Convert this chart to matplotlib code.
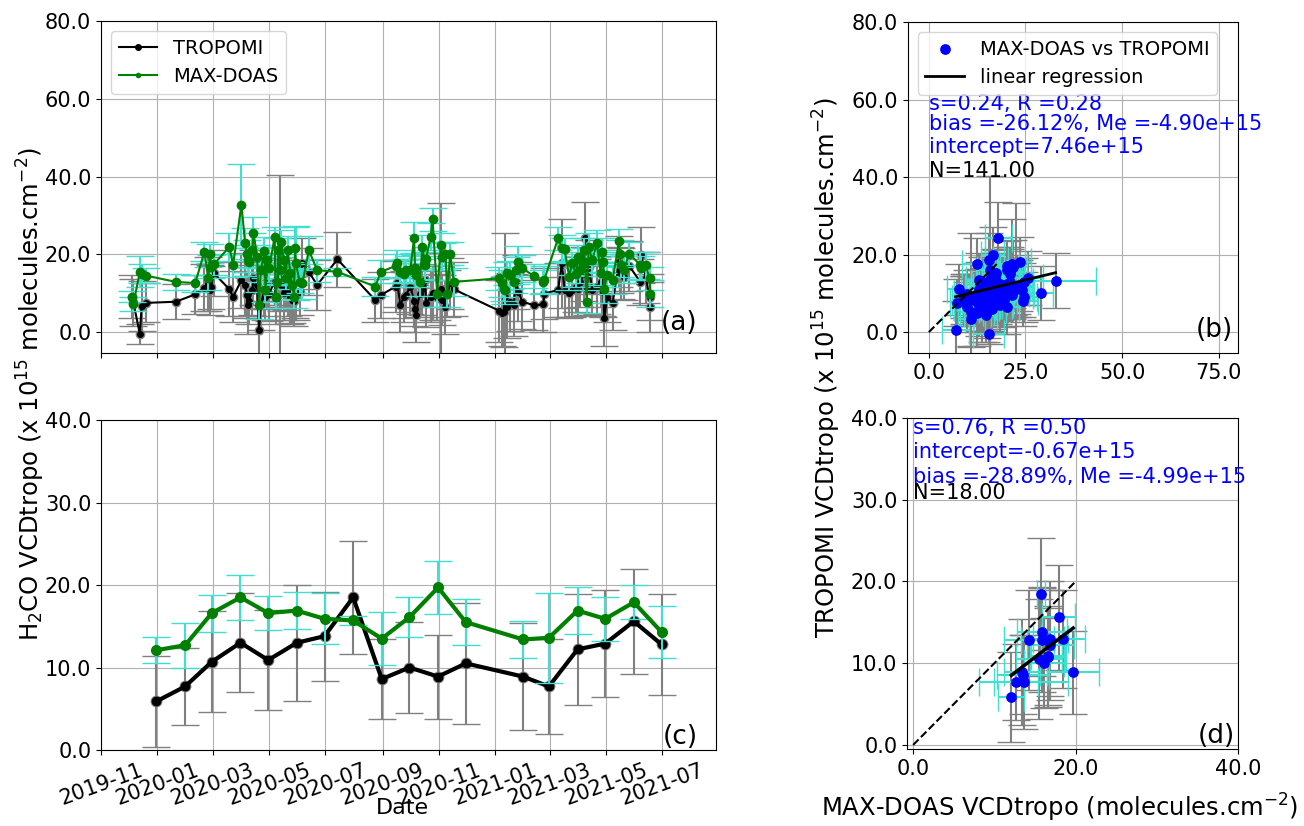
import numpy as np
import pandas as pd
import matplotlib
matplotlib.use("Agg")
import matplotlib.pyplot as plt
import matplotlib.dates as mdates
from matplotlib.ticker import FormatStrFormatter, MultipleLocator

# ---- daily coincidences ----
dates = ["2019-12-04", "2019-12-06", "2019-12-13", "2019-12-15", "2019-12-20", "2020-01-21",
         "2020-02-11", "2020-02-21", "2020-02-25", "2020-02-27", "2020-02-28", "2020-03-02",
         "2020-03-19", "2020-03-23", "2020-04-01", "2020-04-05", "2020-04-07", "2020-04-08",
         "2020-04-09", "2020-04-13", "2020-04-14", "2020-04-18", "2020-04-20", "2020-04-22",
         "2020-04-26", "2020-04-27", "2020-04-29", "2020-05-01", "2020-05-07", "2020-05-08",
         "2020-05-10", "2020-05-11", "2020-05-13", "2020-05-14", "2020-05-17", "2020-05-19",
         "2020-05-21", "2020-05-24", "2020-05-26", "2020-05-28", "2020-05-29", "2020-05-30",
         "2020-06-03", "2020-06-06", "2020-06-13", "2020-06-22", "2020-07-14", "2020-08-24",
         "2020-08-30", "2020-09-15", "2020-09-17", "2020-09-20", "2020-09-24", "2020-09-26",
         "2020-10-01", "2020-10-05", "2020-10-06", "2020-10-07", "2020-10-11", "2020-10-14",
         "2020-10-17", "2020-10-18", "2020-10-23", "2020-10-25", "2020-10-30", "2020-11-03",
         "2020-11-04", "2020-11-08", "2020-11-10", "2020-11-13", "2020-11-17", "2021-01-05",
         "2021-01-08", "2021-01-10", "2021-01-11", "2021-01-14", "2021-01-17", "2021-01-21",
         "2021-01-23", "2021-01-26", "2021-01-30", "2021-02-12", "2021-02-22", "2021-02-23",
         "2021-03-10", "2021-03-14", "2021-03-17", "2021-03-22", "2021-03-25", "2021-03-29",
         "2021-04-01", "2021-04-03", "2021-04-07", "2021-04-08", "2021-04-10", "2021-04-12",
         "2021-04-16", "2021-04-21", "2021-04-25", "2021-04-27", "2021-04-28", "2021-04-29",
         "2021-05-02", "2021-05-08", "2021-05-15", "2021-05-16", "2021-05-17", "2021-05-20",
         "2021-05-26", "2021-06-07", "2021-06-08", "2021-06-13", "2021-06-17", "2021-06-18"]

maxdoas = [9.1, 7.2, 15.5, 15.0, 14.5, 12.9, 12.6, 20.7, 13.8, 20.2, 16.8, 17.4,
           21.9, 17.2, 32.8, 22.8, 20.2, 18.5, 18.0, 21.1, 25.6, 19.4, 6.9, 15.9,
           20.9, 10.8, 18.5, 16.4, 24.5, 9.1, 13.0, 21.1, 15.9, 23.2, 18.5, 14.0,
           21.1, 15.1, 12.0, 9.1, 21.5, 17.7, 13.0, 12.5, 21.1, 15.9, 15.5, 11.7,
           15.5, 17.0, 17.7, 15.5, 15.0, 15.9, 16.0, 24.3, 16.4, 14.7, 12.9, 21.9,
           17.2, 18.9, 24.5, 29.0, 9.9, 22.5, 19.4, 20.2, 9.9, 20.2, 12.9, 13.8,
           12.5, 11.0, 10.8, 15.1, 14.7, 13.0, 15.9, 18.1, 16.4, 14.4, 12.9, 13.5,
           24.1, 21.5, 21.3, 14.2, 17.7, 15.0, 19.4, 16.0, 21.1, 18.0, 7.8, 21.9,
           18.5, 22.8, 15.1, 20.7, 18.1, 11.0, 14.7, 13.4, 23.5, 20.2, 17.2, 16.0,
           20.2, 17.2, 16.5, 17.2, 13.8, 9.9]

maxdoas_err = [1.5, 1.8, 4.0, 2.5, 2.0, 2.0, 2.2, 2.5, 3.0, 2.5, 3.0, 2.8,
               3.5, 3.0, 10.4, 4.0, 3.5, 3.0, 3.5, 4.5, 4.0, 3.0, 3.5, 3.0,
               3.5, 3.0, 3.0, 3.5, 2.5, 3.0, 3.5, 3.0, 3.5, 3.0, 3.5, 3.0,
               3.5, 3.0, 3.5, 3.0, 5.4, 9.5, 3.0, 4.0, 3.5, 3.0, 1.0, 2.5,
               3.0, 3.0, 3.5, 3.0, 3.5, 3.0, 3.5, 4.0, 3.5, 3.0, 3.5, 3.0,
               3.5, 3.0, 3.5, 3.0, 3.5, 3.0, 3.5, 3.0, 3.5, 3.0, 3.5, 3.0,
               3.5, 3.0, 3.5, 3.0, 3.5, 3.0, 3.5, 4.0, 3.5, 3.0, 3.0, 3.5,
               3.0, 3.5, 3.0, 3.5, 3.0, 3.5, 3.0, 3.5, 3.0, 3.5, 3.0, 3.5,
               3.0, 3.5, 3.0, 3.5, 3.0, 3.5, 3.0, 3.5, 3.0, 3.5, 3.0, 3.5,
               3.0, 3.5, 3.0, 3.5, 3.0, 3.5]

tropomi = [9.1, 7.6, -0.5, 6.7, 7.5, 7.8, 9.7, 11.4, 12.3, 10.8, 11.5, 15.2,
           11.0, 9.1, 13.3, 12.0, 9.5, 6.9, 8.0, 10.8, 14.0, 12.0, 0.5, 6.9,
           11.0, 9.0, 12.5, 9.9, 13.0, 8.5, 13.4, 13.0, 15.9, 12.0, 10.0, 11.7,
           10.5, 9.0, 8.2, 8.0, 9.5, 10.0, 10.4, 17.7, 15.5, 12.1, 18.7, 8.2,
           9.5, 11.7, 12.5, 6.9, 9.1, 9.5, 11.7, 8.0, 6.0, 4.4, 9.9, 11.0,
           13.4, 7.4, 9.1, 10.0, 9.0, 11.2, 8.2, 6.5, 9.9, 12.5, 11.0, 5.5,
           5.0, 5.2, 9.1, 6.5, 7.8, 6.9, 12.9, 10.4, 7.8, 6.9, 7.1, 9.9,
           10.8, 17.7, 10.8, 10.0, 10.8, 11.7, 11.0, 12.9, 15.0, 24.3, 11.0, 16.8,
           10.8, 11.7, 13.0, 11.0, 10.4, 3.5, 9.0, 7.4, 18.1, 16.0, 15.0, 14.2,
           17.0, 12.9, 19.9, 14.0, 9.0, 6.5]

tropomi_err = [5.5, 6.0, 2.5, 6.5, 5.0, 4.5, 5.0, 6.0, 7.0, 6.5, 5.5, 6.0,
               7.0, 6.5, 7.0, 8.0, 6.0, 7.5, 6.0, 6.5, 7.0, 6.0, 7.5, 6.5,
               7.0, 6.0, 6.5, 7.0, 6.0, 6.5, 7.0, 6.0, 24.4, 6.5, 7.0, 6.0,
               6.5, 7.0, 6.0, 6.5, 6.0, 7.0, 6.0, 6.5, 6.0, 6.5, 7.0, 5.5,
               6.0, 6.5, 6.0, 7.0, 6.5, 6.0, 7.0, 6.5, 6.0, 7.0, 6.0, 6.5,
               7.0, 6.0, 6.5, 7.0, 6.0, 22.0, 6.5, 7.0, 6.0, 6.5, 7.0, 8.0,
               8.5, 9.0, 16.5, 8.0, 7.5, 8.0, 7.0, 7.5, 7.0, 6.5, 7.0, 6.5,
               7.0, 11.5, 7.0, 6.5, 7.0, 6.5, 7.0, 6.5, 7.0, 9.2, 6.5, 7.0,
               6.5, 7.0, 6.5, 7.0, 6.5, 7.0, 6.5, 7.0, 6.5, 6.0, 6.5, 6.0,
               6.5, 6.0, 7.2, 6.5, 6.0, 6.5]

# ---- monthly means (panel c) ----
months = ["2019-12-31", "2020-01-31", "2020-02-29", "2020-03-31", "2020-04-30", "2020-05-31",
          "2020-06-30", "2020-07-31", "2020-08-31", "2020-09-30", "2020-10-31", "2020-11-30",
          "2021-01-31", "2021-02-28", "2021-03-31", "2021-04-30", "2021-05-31", "2021-06-30"]
maxdoas_m = [12.1, 12.7, 16.6, 18.5, 16.6, 16.9, 15.9, 15.7, 13.5, 16.1, 19.7, 15.5,
             13.4, 13.6, 16.9, 15.9, 17.9, 14.3]
maxdoas_m_err = [1.6, 2.7, 2.25, 2.7, 2.1, 2.2, 3.1, 0.5, 3.2, 2.45, 3.2, 2.8,
                 2.2, 5.45, 2.85, 2.65, 2.05, 3.1]
tropomi_m = [5.9, 7.7, 10.7, 13.0, 10.9, 13.0, 13.8, 18.5, 8.6, 10.0, 8.9, 10.5,
             8.9, 7.7, 12.2, 12.9, 15.6, 12.8]
tropomi_m_err = [5.5, 4.65, 6.1, 6.0, 6.05, 7.0, 5.4, 6.85, 4.8, 5.5, 5.1, 7.3,
                 6.45, 5.7, 6.7, 6.45, 6.4, 6.1]

# regression results printed on the figure
slope_d, icpt_d = 0.24, 7.46
slope_m, icpt_m = 0.76, -0.67
oneone_d = [0, 18]
oneone_m = [0, 20]

t = pd.to_datetime(dates)
tm = pd.to_datetime(months)
G = np.array(maxdoas); Ge = np.array(maxdoas_err)
B = np.array(tropomi); Be = np.array(tropomi_err)
Gm = np.array(maxdoas_m); Gme = np.array(maxdoas_m_err)
Bm = np.array(tropomi_m); Bme = np.array(tropomi_m_err)

fs = 15
lfs = 17.5
plt.rcParams["font.size"] = fs

fig = plt.figure(figsize=(13.04, 8.26), dpi=100)
ax_a = fig.add_axes([0.0775, 0.5726, 0.4716, 0.4019])
ax_c = fig.add_axes([0.0775, 0.0920, 0.4716, 0.3995], sharex=ax_a)
ax_b = fig.add_axes([0.6963, 0.5726, 0.2531, 0.4007])
ax_d = fig.add_axes([0.6956, 0.0932, 0.2538, 0.4007])

# panel a  (errorbar lifts its markers by +0.1 in zorder, so set them by hand)
ax_a.errorbar(t, B, yerr=Be, fmt="o", color="grey", ecolor="grey", capsize=10, ms=6, zorder=2)
l1, = ax_a.plot(t, B, "k.-", lw=1.5, ms=8, label="TROPOMI", zorder=2.3)
ax_a.errorbar(t, G, yerr=Ge, fmt="o", color="green", ecolor="turquoise", capsize=10, ms=6, zorder=2.4)
l2, = ax_a.plot(t, G, "g.-", lw=1.5, label="MAX-DOAS", zorder=2.6)
ax_a.legend(handles=[l1, l2], loc="upper left", fontsize=14)
ax_a.set_ylim(-5.4, 80)
ax_a.yaxis.set_major_locator(MultipleLocator(20))
ax_a.text(0.97, 0.05, "(a)", transform=ax_a.transAxes, ha="right", va="bottom", fontsize=19)
plt.setp(ax_a.get_xticklabels(), visible=False)

# panel c
ax_c.errorbar(tm, Bm, yerr=Bme, fmt="o", color="grey", ecolor="grey", capsize=10, ms=7.5, zorder=2)
ax_c.plot(tm, Bm, "k.-", lw=3, ms=12, zorder=2.3)
ax_c.errorbar(tm, Gm, yerr=Gme, fmt="o", color="green", ecolor="turquoise", capsize=10, ms=7, zorder=2.4)
ax_c.plot(tm, Gm, "g.-", lw=3, ms=8, zorder=2.6)
ax_c.set_ylim(0, 40)
ax_c.yaxis.set_major_locator(MultipleLocator(10))
ax_c.set_xlim(pd.Timestamp("2019-11-01"), pd.Timestamp("2021-08-28"))
ax_c.xaxis.set_major_locator(mdates.MonthLocator(bymonth=[1, 3, 5, 7, 9, 11]))
ax_c.xaxis.set_major_formatter(mdates.DateFormatter("%Y-%m"))
plt.setp(ax_c.get_xticklabels(), rotation=20)
ax_c.set_xlabel("Date", fontsize=16)
ax_c.xaxis.set_label_coords(0.49, -0.145)
ax_c.text(0.97, 0.0, "(c)", transform=ax_c.transAxes, ha="right", va="bottom", fontsize=19)

# panel b
ax_b.errorbar(G, B, yerr=Be, fmt="none", ecolor="grey", capsize=10)
ax_b.errorbar(G, B, xerr=Ge, fmt="none", ecolor="turquoise", capsize=10)
sc = ax_b.scatter(G, B, color="blue", s=45, zorder=3, label="MAX-DOAS vs TROPOMI")
xr = np.array([G.min(), G.max()])
lr, = ax_b.plot(xr, slope_d * xr + icpt_d, "k-", lw=2, zorder=4, label="linear regression")
ax_b.plot(oneone_d, oneone_d, "k--", lw=1.5, zorder=4)
ax_b.legend(handles=[sc, lr], loc="upper left", fontsize=14)
ax_b.set_xlim(-5.4, 80)
ax_b.set_ylim(-5.4, 80)
ax_b.xaxis.set_major_locator(MultipleLocator(25))
ax_b.yaxis.set_major_locator(MultipleLocator(20))
ax_b.text(0, 58.9, "s=0.24, R =0.28", color="blue", va="center", fontsize=fs)
ax_b.text(0, 53.7, "bias =-26.12%, Me =-4.90e+15", color="blue", va="center", fontsize=fs)
ax_b.text(0, 47.8, "intercept=7.46e+15", color="blue", va="center", fontsize=fs)
ax_b.text(0, 41.6, "N=141.00", color="black", va="center", fontsize=fs)
ax_b.text(0.985, 0.03, "(b)", transform=ax_b.transAxes, ha="right", va="bottom", fontsize=19)

# panel d
ax_d.errorbar(Gm, Bm, yerr=Bme, fmt="none", ecolor="grey", capsize=10)
ax_d.errorbar(Gm, Bm, xerr=Gme, fmt="none", ecolor="turquoise", capsize=10)
ax_d.scatter(Gm, Bm, color="blue", s=45, zorder=3)
xm = np.array([Gm.min(), Gm.max()])
ax_d.plot(xm, slope_m * xm + icpt_m, "k-", lw=2.5, zorder=4)
ax_d.plot(oneone_m, oneone_m, "k--", lw=1.5, zorder=4)
ax_d.set_xlim(-0.75, 40)
ax_d.set_ylim(-0.5, 40)
ax_d.xaxis.set_major_locator(MultipleLocator(20))
ax_d.yaxis.set_major_locator(MultipleLocator(10))
ax_d.text(0, 38.8, "s=0.76, R =0.50", color="blue", va="center", fontsize=fs)
ax_d.text(0, 35.9, "intercept=-0.67e+15", color="blue", va="center", fontsize=fs)
ax_d.text(0, 32.8, "bias =-28.89%, Me =-4.99e+15", color="blue", va="center", fontsize=fs)
ax_d.text(0, 30.8, "N=18.00", color="black", va="center", fontsize=fs)
ax_d.text(0.99, 0.0, "(d)", transform=ax_d.transAxes, ha="right", va="bottom", fontsize=19)

for ax in [ax_a, ax_b, ax_c, ax_d]:
    ax.grid(True)
    ax.yaxis.set_major_formatter(FormatStrFormatter("%.1f"))
    ax.tick_params(labelsize=fs)
for ax in [ax_b, ax_d]:
    ax.xaxis.set_major_formatter(FormatStrFormatter("%.1f"))

fig.text(0.024, 0.523, "H$_2$CO VCDtropo (x 10$^{15}$ molecules.cm$^{-2}$)",
         rotation=90, ha="center", va="center", fontsize=lfs)
fig.text(0.634, 0.555, "TROPOMI VCDtropo (x 10$^{15}$ molecules.cm$^{-2}$)",
         rotation=90, ha="center", va="center", fontsize=lfs)
fig.text(0.8125, 0.0218, "MAX-DOAS VCDtropo (molecules.cm$^{-2}$)",
         ha="center", va="center", fontsize=lfs)

fig.savefig("out.png", dpi=100)
